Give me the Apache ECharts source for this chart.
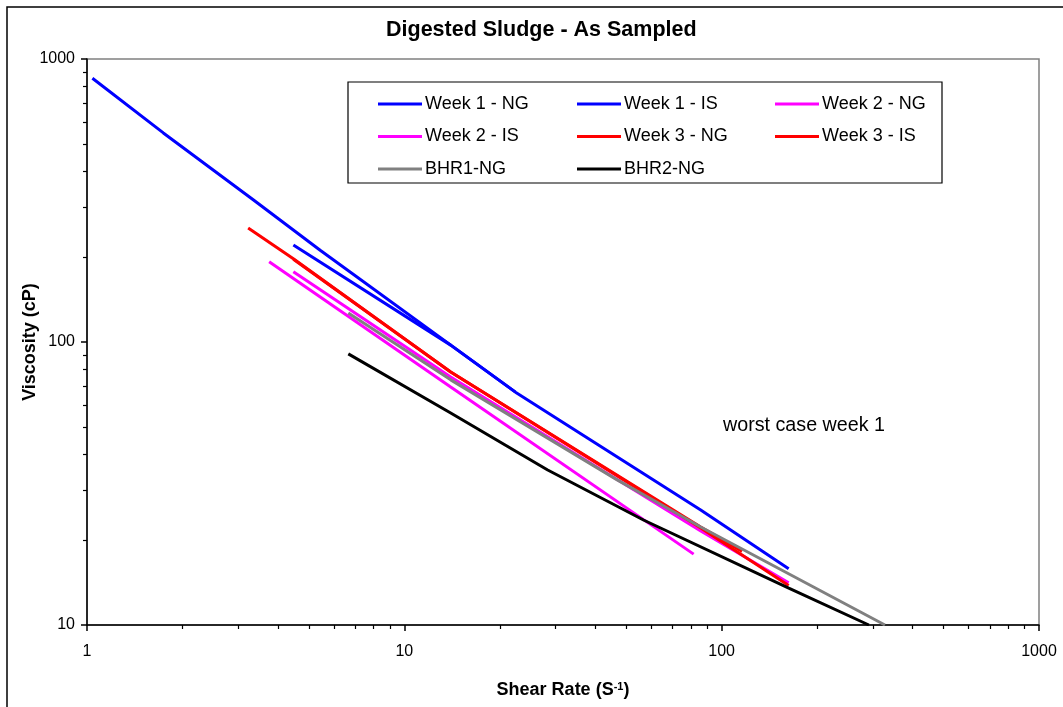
<!DOCTYPE html>
<html>
<head>
<meta charset="utf-8">
<title>Digested Sludge - As Sampled</title>
<script src="https://cdn.jsdelivr.net/npm/echarts@6/dist/echarts.min.js"></script>
<style>
  html, body { margin: 0; padding: 0; background: #fff; }
  #main { width: 1063px; height: 707px; }
</style>
</head>
<body>
<div id="main"></div>
<script>
// [shear rate (1/s), viscosity (cP)]
var week1NG = [[1.04, 855], [1.74, 548], [3.34, 318], [5.43, 211], [22.4, 66.5]];
var week1IS = [[4.47, 220], [14.0, 97.5], [22.4, 66.5], [85.9, 25.5], [162.6, 15.8]];
var week2NG = [[3.75, 192], [14.0, 69.3], [81.6, 17.8]];
var week2IS = [[4.47, 177], [14.0, 75.2], [85.9, 21.5], [162.6, 14.1]];
var week3NG = [[3.22, 253], [4.47, 197], [14.0, 78.3], [85.9, 22.2], [116, 18.2]];
var week3IS = [[4.47, 196], [14.0, 78.3], [85.9, 22.0], [162.6, 13.8]];
var bhr1NG = [[6.66, 126.5], [14.0, 73.5], [47, 32.5], [85.9, 22.2], [327, 10]];
var bhr2NG = [[6.66, 90.8], [14.0, 56.1], [28.3, 35.3], [56.7, 23.5], [162.7, 13.5], [291, 10]];

var seriesNames = ['Week 1 - NG', 'Week 1 - IS', 'Week 2 - NG', 'Week 2 - IS',
  'Week 3 - NG', 'Week 3 - IS', 'BHR1-NG', 'BHR2-NG'];
var seriesData = [week1NG, week1IS, week2NG, week2IS, week3NG, week3IS, bhr1NG, bhr2NG];
var seriesColors = ['#0000ff', '#0000ff', '#ff00ff', '#ff00ff', '#ff0000', '#ff0000', '#808080', '#000000'];

// legend columns, as laid out in the box
var legendCols = [
  ['Week 1 - NG', 'Week 2 - IS', 'BHR1-NG'],
  ['Week 1 - IS', 'Week 3 - NG', 'BHR2-NG'],
  ['Week 2 - NG', 'Week 3 - IS']
];

var xRange = [1, 1000];
var yRange = [10, 1000];
var minorSteps = [2, 3, 4, 5, 6, 7, 8, 9];
var xDecades = [1, 10, 100];
var yDecades = [10, 100];

var FONT = '"Liberation Sans", Arial, sans-serif';

// minor ticks at 2..9 of every decade, placed on a hidden axis in log10 units
function minorTicks(decades) {
  var out = [];
  decades.forEach(function (d) {
    minorSteps.forEach(function (m) { out.push(Math.log10(d * m)); });
  });
  return out;
}

function plainNumber(v) {
  return String(v);
}

var chart = echarts.init(document.getElementById('main'), null, { renderer: 'canvas' });

var series = seriesNames.map(function (name, i) {
  return {
    name: name,
    type: 'line',
    xAxisIndex: 0,
    yAxisIndex: 0,
    data: seriesData[i],
    symbol: 'none',
    smooth: false,
    clip: true,
    color: seriesColors[i],
    lineStyle: { color: seriesColors[i], width: 3 },
    z: 2 + i
  };
});

var legends = legendCols.map(function (col, i) {
  return {
    data: col,
    orient: 'vertical',
    left: [373, 572, 770][i],
    top: 89,
    icon: 'rect',
    itemWidth: 44,
    itemHeight: 3,
    itemGap: 12.5,
    selectedMode: false,
    textStyle: { fontFamily: FONT, fontSize: 18, color: '#000', lineHeight: 20, padding: [0, 0, 0, -2] }
  };
});

var option = {
  animation: false,
  backgroundColor: '#fff',
  title: {
    text: 'Digested Sludge - As Sampled',
    left: 381,
    top: 14,
    textStyle: { fontFamily: FONT, fontSize: 21.5, fontWeight: 'bold', color: '#000' }
  },
  legend: legends,
  grid: {
    left: 87, right: 24, top: 59, bottom: 82,
    show: true,
    backgroundColor: '#fff',
    borderColor: '#808080',
    borderWidth: 1.5
  },
  xAxis: [{
    type: 'log',
    logBase: 10,
    min: xRange[0],
    max: xRange[1],
    name: 'Shear Rate (S{sup|-1})',
    nameLocation: 'middle',
    nameGap: 56,
    nameTextStyle: {
      fontFamily: FONT, fontSize: 18, fontWeight: 'bold', color: '#000',
      rich: { sup: { fontFamily: FONT, fontSize: 11, fontWeight: 'bold', color: '#000', verticalAlign: 'top' } }
    },
    axisLine: { show: true, lineStyle: { color: '#000', width: 1.5 } },
    axisTick: { show: true, inside: false, length: 6, lineStyle: { color: '#000', width: 1.5 } },
    axisLabel: { fontFamily: FONT, fontSize: 16, color: '#000', margin: 19, formatter: plainNumber },
    splitLine: { show: false }
  }, {
    type: 'value',
    min: 0,
    max: 3,
    position: 'bottom',
    axisLine: { show: false },
    axisLabel: { show: false },
    axisTick: { show: true, length: 4, customValues: minorTicks(xDecades), lineStyle: { color: '#000', width: 1.2 } },
    splitLine: { show: false }
  }],
  yAxis: [{
    type: 'log',
    logBase: 10,
    min: yRange[0],
    max: yRange[1],
    name: 'Viscosity (cP)',
    nameLocation: 'middle',
    nameGap: 48,
    nameMoveOverlap: false,
    nameTextStyle: { fontFamily: FONT, fontSize: 18, fontWeight: 'bold', color: '#000' },
    axisLine: { show: true, lineStyle: { color: '#000', width: 1.5 } },
    axisTick: { show: true, inside: false, length: 6, lineStyle: { color: '#000', width: 1.5 } },
    axisLabel: { fontFamily: FONT, fontSize: 16, color: '#000', margin: 12, formatter: plainNumber },
    splitLine: { show: false }
  }, {
    type: 'value',
    min: 1,
    max: 3,
    position: 'left',
    axisLine: { show: false },
    axisLabel: { show: false },
    axisTick: { show: true, length: 4, customValues: minorTicks(yDecades), lineStyle: { color: '#000', width: 1.2 } },
    splitLine: { show: false }
  }],
  graphic: [{
    type: 'rect',
    silent: true,
    z: -10,
    shape: { x: 7, y: 7, width: 1120, height: 760 },
    style: { fill: null, stroke: '#000', lineWidth: 1.5 }
  }, {
    type: 'rect',
    silent: true,
    z: 1,
    shape: { x: 348, y: 82, width: 594, height: 101 },
    style: { fill: '#fff', stroke: '#000', lineWidth: 1.2 }
  }, {
    type: 'text',
    silent: true,
    left: 723,
    top: 416,
    style: { text: 'worst case week 1', fontFamily: FONT, fontSize: 19.7, fill: '#000' }
  }],
  series: series
};

chart.setOption(option);
</script>
</body>
</html>
